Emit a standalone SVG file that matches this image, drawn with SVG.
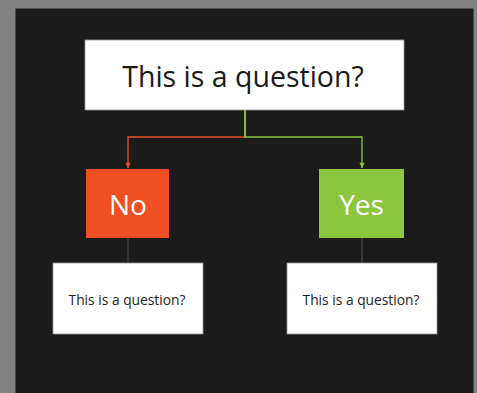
<svg xmlns="http://www.w3.org/2000/svg" width="477" height="393" viewBox="0 0 477 393">
<style>
.box{fill:#ffffff;stroke:#9a9a9a;stroke-width:0.8}
.t{font-family:"Open Sans","Noto Sans",sans-serif;text-anchor:middle;dominant-baseline:central}
.big{font-size:28.5px;fill:#1a1a1a}
.lab{font-size:28px;fill:#ffffff}
.small{font-size:13.8px;fill:#222222}
</style>
<defs>
<marker id="arr" viewBox="0 0 8 8" refX="4" refY="7" markerWidth="7" markerHeight="7" markerUnits="userSpaceOnUse" orient="0">
<path d="M1,1 L4,7 L7,1 Z" fill="#e8502a"/>
</marker>
<marker id="arg" viewBox="0 0 8 8" refX="4" refY="7" markerWidth="7" markerHeight="7" markerUnits="userSpaceOnUse" orient="0">
<path d="M1,1 L4,7 L7,1 Z" fill="#8cc63f"/>
</marker>
</defs>
<rect x="0" y="0" width="477" height="393" fill="#828282"/>
<rect x="15.5" y="8.5" width="458" height="385" fill="#1b1b1b"/>
<g id="connectors" fill="none" stroke-width="1.3">
<path d="M245,110 V137 H128 V168" stroke="#e8502a" marker-end="url(#arr)"/>
<path d="M245,110 V137 H362 V168" stroke="#8cc63f" marker-end="url(#arg)"/>
<path d="M245,110 V137" stroke="#8cc63f"/>
<path d="M128,238 V263" stroke="#444444"/>
<path d="M362,238 V263" stroke="#444444"/>
</g>
<g id="question">
<rect class="box" x="85" y="40" width="319" height="70"/>
<text class="t big" x="243" y="76">This is a question?</text>
</g>
<g id="no">
<rect x="86" y="169" width="83" height="69" fill="#f04e23"/>
<text class="t lab" x="128" y="204">No</text>
</g>
<g id="yes">
<rect x="319" y="169" width="85" height="69" fill="#8cc63f"/>
<text class="t lab" x="361.5" y="204">Yes</text>
</g>
<g id="q-left">
<rect class="box" x="53" y="263" width="150" height="71"/>
<text class="t small" x="127" y="299">This is a question?</text>
</g>
<g id="q-right">
<rect class="box" x="287" y="263" width="150" height="71"/>
<text class="t small" x="361" y="299">This is a question?</text>
</g>
</svg>
